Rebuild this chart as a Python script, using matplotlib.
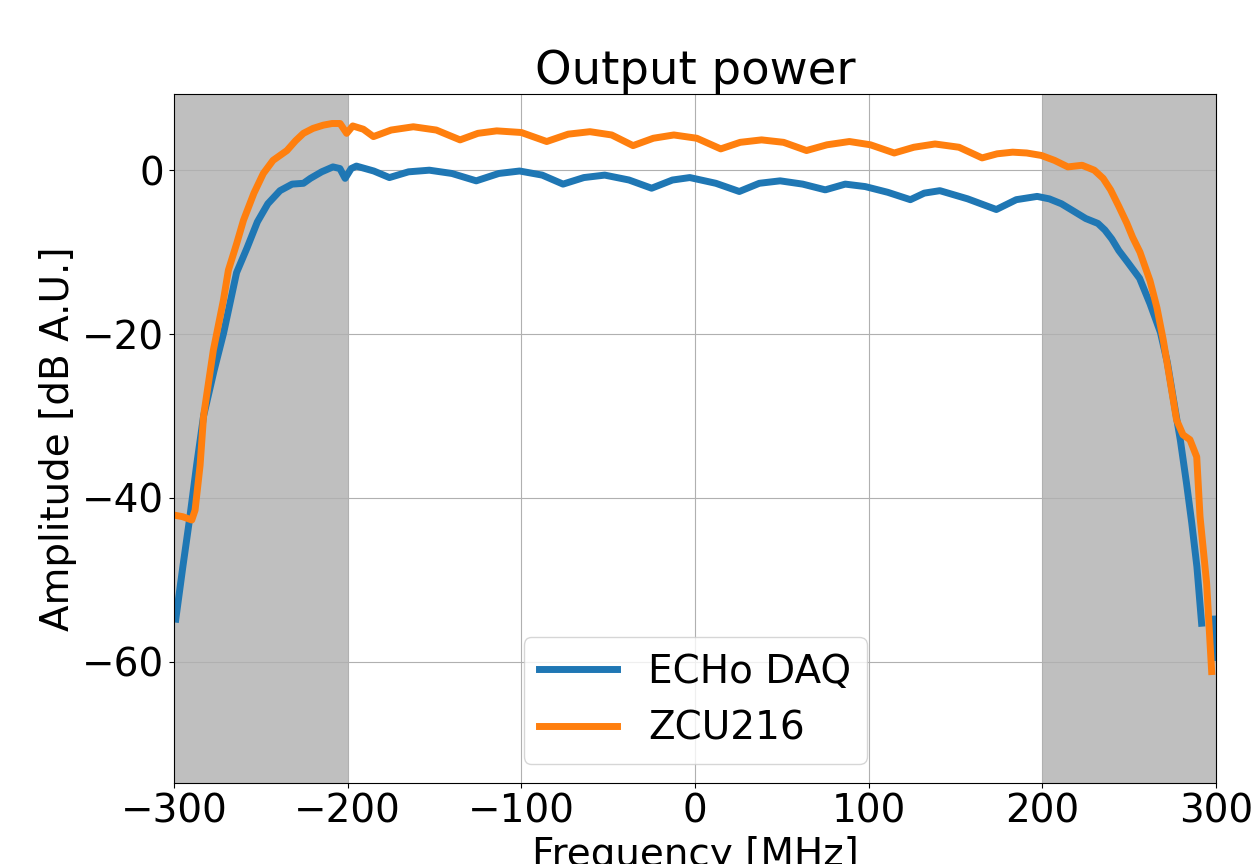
import numpy as np
import matplotlib.pyplot as plt

# ECHo DAQ output power
echo_freq = [-299, -295, -291, -287, -283, -277, -271.5, -264, -258, -252, -246, -239,
             -232, -225.5, -221.5, -215, -208.5, -204.5, -201.5, -198, -195, -185, -176,
             -165, -153, -140, -126, -113, -101, -88, -76, -64, -52, -38, -25, -13, -3,
             12, 25.5, 37, 49, 62, 75, 86.5, 98, 111, 124, 132, 141, 157, 173.5, 185,
             197, 204, 211, 218, 225, 232, 236, 240, 244, 249, 256, 262, 268, 272, 275.5,
             279.5, 283, 286, 289, 291.7, 295, 298.5, 299.5]
echo_amp = [-54.8, -48.5, -42.5, -36, -30, -24.5, -19.9, -12.5, -9.5, -6.3, -4.1, -2.5,
            -1.7, -1.6, -1.0, -0.2, 0.4, 0.2, -1.0, 0.2, 0.5, -0.1, -0.9,
            -0.2, 0.0, -0.4, -1.3, -0.4, -0.1, -0.6, -1.7, -0.9, -0.6, -1.2, -2.2, -1.2, -0.9,
            -1.6, -2.6, -1.6, -1.3, -1.7, -2.4, -1.7, -2.0, -2.7, -3.6, -2.8, -2.5, -3.5, -4.8, -3.6,
            -3.2, -3.5, -4.1, -5.0, -5.9, -6.5, -7.3, -8.4, -9.8, -11.2, -13.2, -16.3, -19.8, -23.5, -28,
            -33, -38.2, -43, -48.4, -55.3, np.nan, -54.8, -59.5]

# ZCU216 output power
zcu_freq = [-300, -295, -289.8, -287.9, -285, -283, -277.4, -271.6, -268.7, -264, -260,
            -254, -248.6, -243, -239, -235, -230, -225.5, -220, -214, -209, -204.4,
            -200.6, -197.1, -191, -185.2, -175, -162.2, -149, -135.3, -125, -114.2,
            -100, -85.4, -73, -60.5, -48, -35.7, -24, -12.2, 1, 14.8, 26, 38.3, 51,
            64.2, 76, 88.9, 101, 114.7, 126, 138.2, 152, 165.3, 174, 182.9, 191, 199.4,
            207, 214.7, 222.9, 229.9, 235, 239.3, 244, 248.7, 252, 256.2, 262, 266,
            269.6, 273, 277.3, 281, 285, 288.9, 290.8, 294.6, 297.5]
zcu_amp = [-42.1, -42.3, -42.7, -41.5, -36, -30, -22, -15.9, -12.2, -9.0, -6.1,
           -2.8, -0.4, 1.2, 1.8, 2.4, 3.6, 4.5, 5.1, 5.5, 5.7, 5.7,
           4.5, 5.4, 5.0, 4.1, 4.9, 5.3, 4.9, 3.7, 4.5, 4.8,
           4.6, 3.5, 4.4, 4.7, 4.3, 3.0, 3.9, 4.3, 3.9, 2.6, 3.4, 3.7, 3.4,
           2.4, 3.1, 3.5, 3.1, 2.1, 2.8, 3.2, 2.8, 1.5, 2.0, 2.2, 2.1, 1.8,
           1.2, 0.4, 0.6, 0.0, -1.0, -2.4, -4.4, -6.5, -8.2, -10.0, -13.5, -16.8,
           -20.7, -25, -30.5, -32.3, -32.9, -35, -42.3, -50.4, -61.2]

xticks = [-300, -200, -100, 0, 100, 200, 300]
yticks = [0, -20, -40, -60]

plt.rcParams['font.size'] = 28

fig = plt.figure(figsize=(12.54, 8.64), dpi=100)
ax = fig.add_axes([0.1388, 0.0938, 0.8309, 0.7974])

ax.axvspan(-300, -200, color='gray', alpha=0.5, lw=0)
ax.axvspan(200, 300, color='gray', alpha=0.5, lw=0)
ax.plot(echo_freq, echo_amp, color='#1f77b4', lw=5, label='ECHo DAQ')
ax.plot(zcu_freq, zcu_amp, color='#ff7f0e', lw=5, label='ZCU216')

ax.set_xlim(-300, 300)
ax.set_ylim(-74.8, 9.3)
ax.set_xticks(xticks)
ax.set_yticks(yticks)
ax.grid(True)
ax.set_title('Output power', fontsize=33.5)
ax.set_xlabel('Frequency [MHz]')
ax.set_ylabel('Amplitude [dB A.U.]')
ax.legend(loc='lower center')

fig.savefig('out.png', dpi=100)
